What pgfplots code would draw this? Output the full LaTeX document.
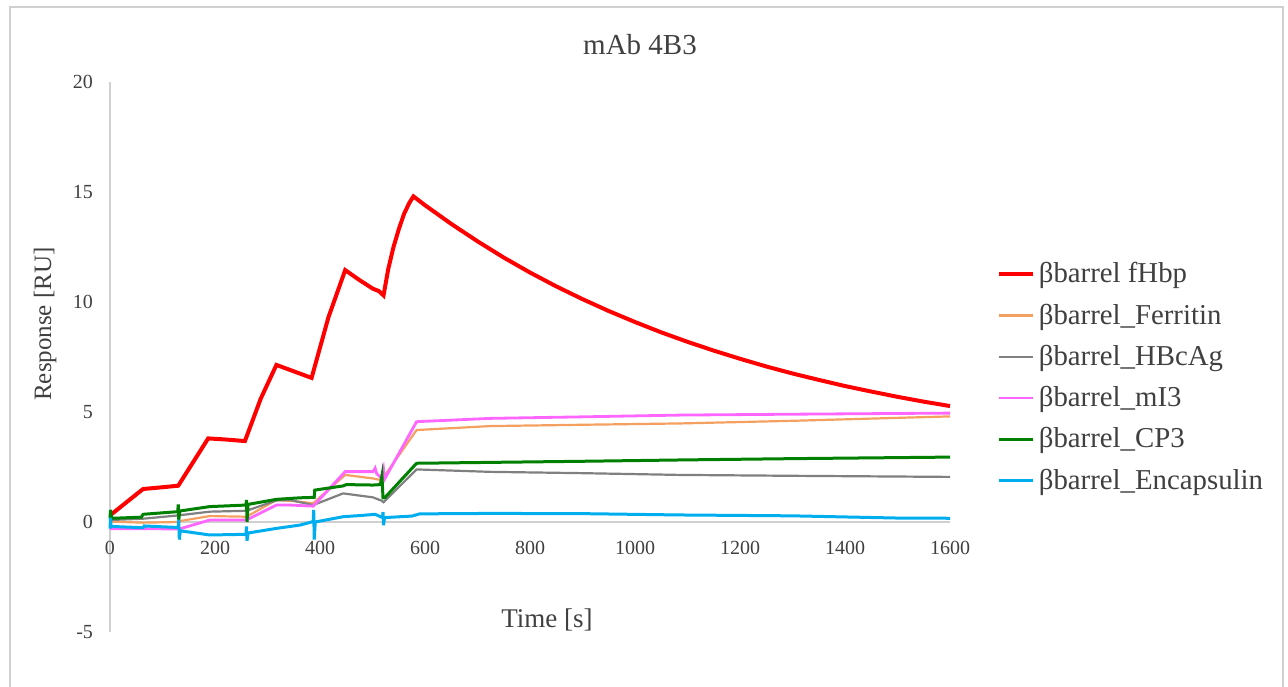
\documentclass[border=0pt]{standalone}
\usepackage{fontspec}
\setmainfont{Liberation Serif}
\usepackage{pgfplots}
\pgfplotsset{compat=1.18}
\definecolor{txt}{HTML}{404040}
\definecolor{axln}{HTML}{D0D0D0}
\definecolor{cRed}{HTML}{FF0000}
\definecolor{cOrange}{HTML}{F4A060}
\definecolor{cGray}{HTML}{808080}
\definecolor{cPink}{HTML}{FF66FF}
\definecolor{cGreen}{HTML}{008000}
\definecolor{cBlue}{HTML}{00AEEF}

\pgfplotstableread{
t v
0 0.3
63 1.5
100 1.58
130 1.65
187 3.8
220 3.75
257 3.68
287 5.6
317 7.14
350 6.85
384 6.55
416 9.3
448 11.45
475 11.0
501 10.6
512 10.5
521 10.3
530 11.5
540 12.5
550 13.3
560 14.0
570 14.5
578 14.8
600 14.40
650 13.55
700 12.76
750 12.02
800 11.34
850 10.71
900 10.13
950 9.59
1000 9.09
1050 8.62
1100 8.19
1150 7.79
1200 7.42
1250 7.07
1300 6.75
1350 6.46
1400 6.18
1450 5.93
1500 5.69
1550 5.47
1600 5.27
}\fhbp

\pgfplotstableread{
t v
0 0.02
63 -0.03
130 0.0
135 0.05
190 0.27
260 0.24
317 1.0
350 0.95
387 0.85
448 2.14
501 1.98
517 1.9
584 4.18
724 4.36
900 4.42
1086 4.48
1300 4.6
1600 4.8
}\ferritin

\pgfplotstableread{
t v
0 0.09
63 0.15
130 0.3
190 0.47
260 0.51
317 0.98
343 1.0
387 0.77
444 1.3
501 1.12
517 0.97
521 0.9
584 2.39
724 2.28
900 2.22
1086 2.14
1300 2.1
1600 2.05
}\hbcag

\pgfplotstableread{
t v
0 -0.3
63 -0.3
130 -0.32
136 -0.29
190 0.09
260 0.09
317 0.77
343 0.77
387 0.72
448 2.29
501 2.29
505 2.45
508 2.2
517 2.0
521 2.4
523 1.95
584 4.56
724 4.71
900 4.78
1086 4.86
1300 4.9
1600 4.95
}\mi

\pgfplotstableread{
t v
0 0.15
1 0.55
3 0.2
6 0.17
60 0.22
63 0.35
129 0.47
130 0.8
131 0.1
133 0.5
190 0.7
259 0.77
260 1.0
261 0.0
263 0.8
317 1.03
362 1.1
389 1.12
390 1.45
444 1.64
450 1.7
501 1.68
515 1.7
518 2.1
520 1.1
524 1.12
584 2.67
724 2.71
900 2.76
1086 2.82
1300 2.88
1600 2.95
}\cpthree

\pgfplotstableread{
t v
0 -0.3
1 0.2
2 -0.2
63 -0.26
65 -0.18
130 -0.25
131 0.1
132 -0.8
134 -0.4
190 -0.59
259 -0.56
260 -0.2
261 -0.85
263 -0.5
317 -0.29
362 -0.14
387 0.02
388 0.55
389 -0.8
391 0.0
444 0.24
480 0.3
505 0.35
519 0.2
520 0.45
521 -0.15
523 0.2
575 0.27
590 0.37
724 0.39
900 0.38
1086 0.32
1300 0.28
1500 0.18
1600 0.17
}\encaps

\begin{document}
\begin{tikzpicture}
\useasboundingbox (-55pt,-27pt) rectangle (589pt,316pt);
\draw[axln, line width=0.8pt] (-50pt,-40pt) -- (-50pt,312.5pt) -- (586.5pt,312.5pt) -- (586.5pt,-40pt);
\begin{axis}[
    at={(0pt,0pt)}, anchor=south west,
    width=420pt, height=275pt, scale only axis,
    xmin=0, xmax=1600, ymin=-5, ymax=20,
    axis x line=middle, axis y line=left,
    axis line style={draw=axln, line width=0.8pt, -},
    xtick={0,200,...,1600}, ytick={-5,0,5,10,15,20},
    major tick length=0pt,
    hide obscured x ticks=false, hide obscured y ticks=false,
    /pgf/number format/assume math mode=true,
    /pgf/number format/1000 sep={},
    ticklabel style={font=\fontsize{10}{12}\selectfont, text=txt},
    xticklabel style={anchor=north, yshift=-6pt},
    yticklabel style={anchor=east, xshift=-5pt},
    legend style={at={(axis description cs:1.048,0.687)}, anchor=north west,
        draw=none, fill=none, font=\fontsize{14.4}{17}\selectfont, text=txt,
        row sep=5pt},
    legend cell align=left,
    clip=false,
]
\addplot[cRed, line width=2pt] table[x=t, y=v] {\fhbp};
\addplot[cOrange, line width=1.1pt] table[x=t, y=v] {\ferritin};
\addplot[cGray, line width=1.1pt] table[x=t, y=v] {\hbcag};
\addplot[cPink, line width=1.4pt] table[x=t, y=v] {\mi};
\addplot[cGreen, line width=1.5pt] table[x=t, y=v] {\cpthree};
\addplot[cBlue, line width=1.5pt] table[x=t, y=v] {\encaps};
\legend{βbarrel fHbp, βbarrel\_Ferritin, βbarrel\_HBcAg, βbarrel\_mI3, βbarrel\_CP3, βbarrel\_Encapsulin}
\end{axis}
\node[text=txt, font=\fontsize{14.5}{17}\selectfont] at (265pt,293.5pt) {mAb 4B3};
\node[text=txt, font=\fontsize{12.5}{15}\selectfont, rotate=90] at (-32.5pt,154pt) {Response [RU]};
\node[text=txt, font=\fontsize{13.5}{16}\selectfont] at (218.5pt,6pt) {Time [s]};
\end{tikzpicture}
\end{document}
